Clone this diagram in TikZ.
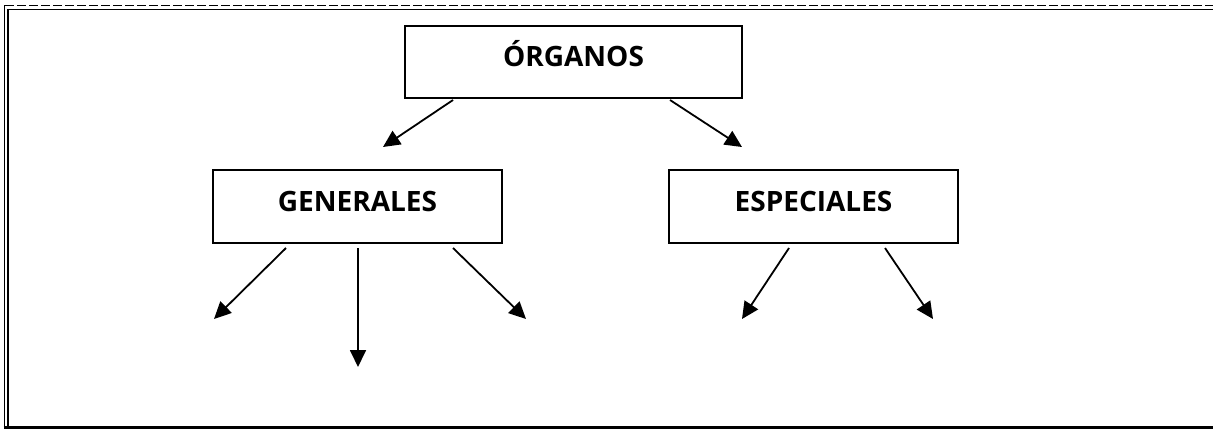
\documentclass[tikz,border=0pt]{standalone}
\usepackage{fontspec}
\setmainfont{Open Sans}
\usetikzlibrary{
	positioning,	% Relative positioning
	arrows.meta,	% Triangle arrow tips
	calc			% Coordinate calculations
}

\begin{document}
\begin{tikzpicture}[x=1pt, y=-1pt]
		\tikzstyle{box} = [draw, line width=2pt, minimum width=289pt, minimum height=73pt, inner sep=0pt, text height=19pt, text depth=10pt, font=\fontsize{28}{32}\selectfont\bfseries]
		\tikzstyle{link} = [line width=1.8pt, -{Triangle[length=17pt, width=16pt]}]
		\useasboundingbox (0,0) rectangle (1213,429);
		
		% Page frame
		\draw[line width=1.8pt, dash pattern=on 9pt off 3pt] (5,5.5) -- (1213,5.5);
		\draw[line width=1.8pt] (4.5,5) -- (4.5,429);
		\draw[line width=1.8pt] (1213,9.5) -- (8,9.5) -- (8,427);
		\draw[line width=2.6pt] (3.6,427.7) -- (1213,427.7);
		
		% Boxes
		\node[box, minimum width=337pt, minimum height=72pt] at (573.5,62) (organos) {ÓRGANOS};
		\node[box] at (357.5,206.5) (generales) {GENERALES};
		\node[box] at (813.5,206.5) (especiales) {ESPECIALES};
		
		% Arrows from the top box
		\coordinate (toGen) at (383,147);
		\coordinate (toEsp) at (742,147);
		\draw[link] ([xshift=-120.5pt, yshift=-1pt]organos.south) -- (toGen);
		\draw[link] ([xshift=96.5pt, yshift=-1pt]organos.south) -- (toEsp);
		
		%% Arrows from GENERALES
		\foreach \dx/\ex/\ey [count=\i] in {-71.5/214/319, 0.5/358/367, 95.5/526/319}{
			\coordinate (gen\i) at (\ex,\ey);
			\draw[link] ([xshift=\dx pt, yshift=-4pt]generales.south) -- (gen\i);
		}
		
		%% Arrows from ESPECIALES
		\foreach \dx/\ex/\ey [count=\i] in {-24.5/742/319, 71.5/933/319}{
			\coordinate (esp\i) at (\ex,\ey);
			\draw[link] ([xshift=\dx pt, yshift=-4pt]especiales.south) -- (esp\i);
		}
	\end{tikzpicture}
\end{document}
